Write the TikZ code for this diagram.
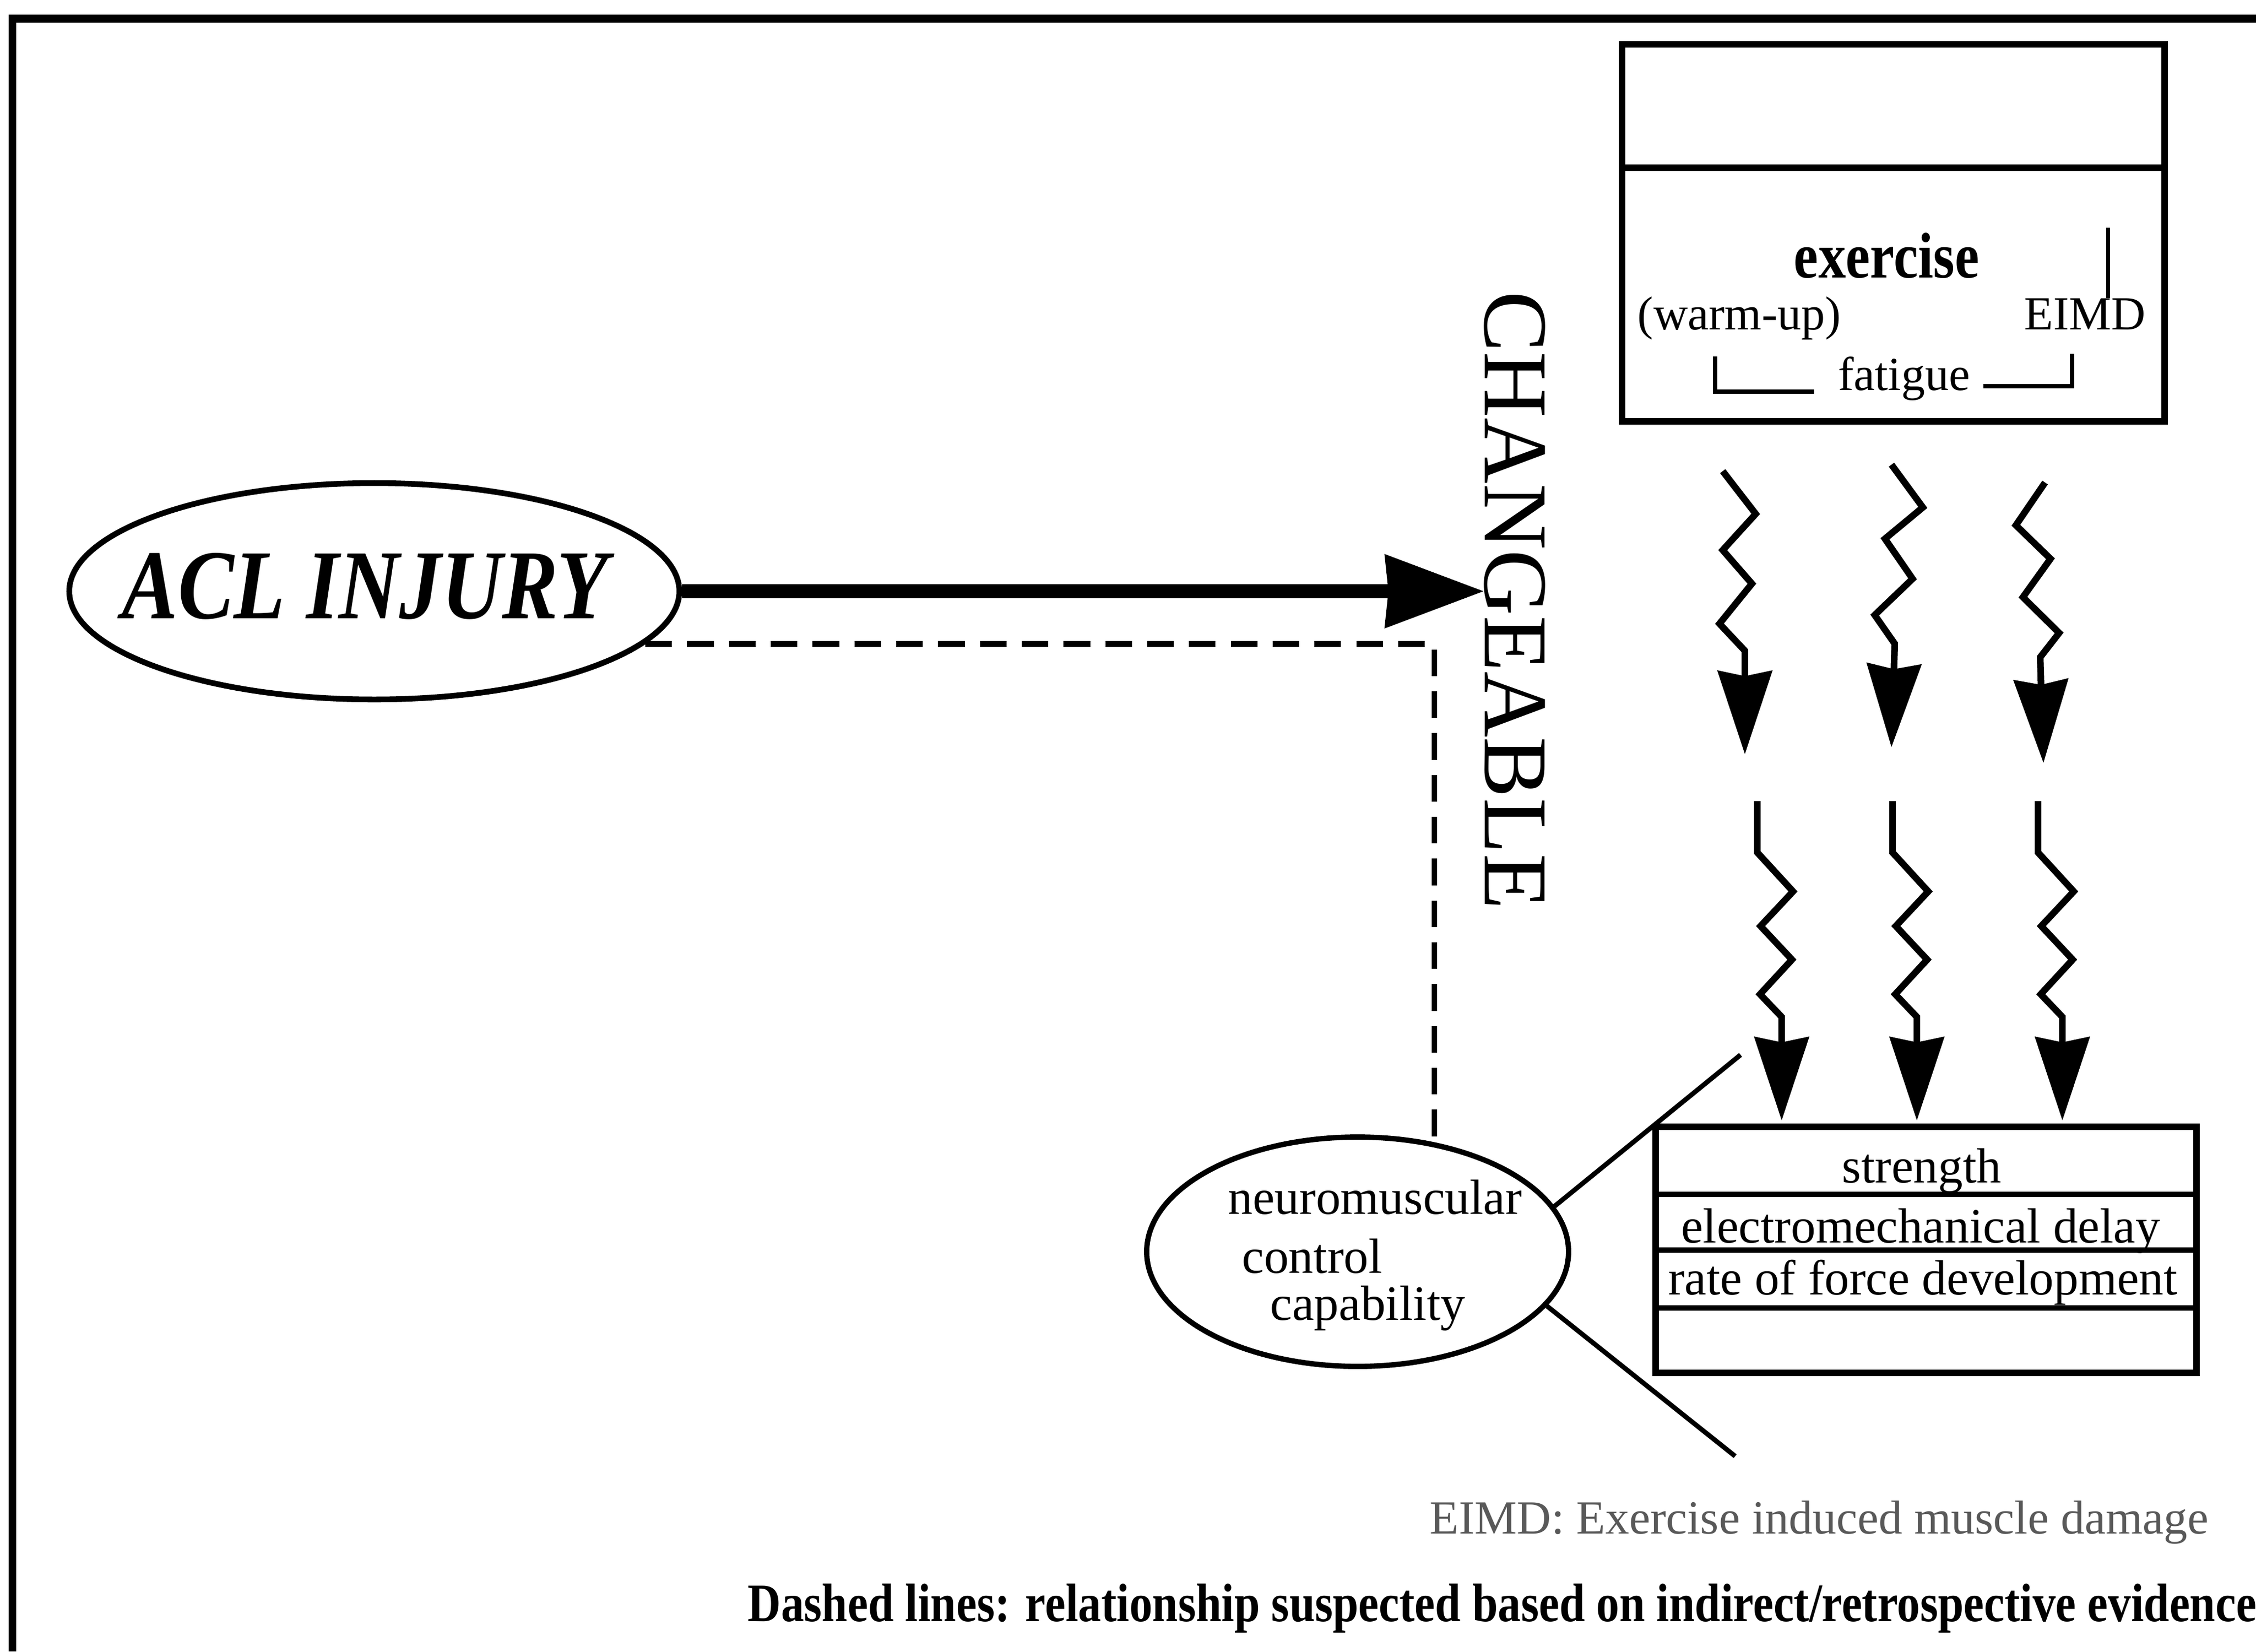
\documentclass[tikz,border=0pt]{standalone}
\usepackage{fontspec}
\setmainfont{Liberation Serif}
\newfontfamily\narrowfont[FakeStretch=0.85]{Liberation Serif}
\usetikzlibrary{arrows.meta,shapes.geometric}

\tikzset{
  frameline/.style={line width=4pt},
  oval/.style={ellipse, draw, line width=3pt, inner sep=0pt},
  boxline/.style={draw, line width=3.2pt, inner sep=0pt},
  txt/.style={inner sep=0pt, font=\fontsize{25}{30}\selectfont},
  celltxt/.style={inner sep=0pt, anchor=base, font=\fontsize{26}{31}\selectfont},
  ovaltxt/.style={inner sep=0pt, anchor=base west, font=\fontsize{26}{31}\selectfont},
  squiggle/.style={line width=3.5pt, -{Stealth[length=44pt, width=29pt, inset=3pt, line width=1pt]}},
  mainarrow/.style={line width=7.5pt, -{Stealth[length=52pt, width=39pt, inset=2pt, line width=1pt]}},
  suspected/.style={line width=3pt, dash pattern=on 14pt off 8pt},
  zoomline/.style={line width=2.5pt}
}

\begin{document}
\begin{tikzpicture}
\useasboundingbox (0,0) rectangle (41.71,-30.53);
% frame, open to the right and bottom
\draw[frameline] (0.23,-30.53) -- (0.23,-0.345) -- (41.71,-0.345);

% exercise box
\node[boxline, minimum width=10.03cm, minimum height=6.97cm] (exbox) at (35.005,-4.305) {};
\draw[line width=3.6pt] (exbox.west |- 0,-3.10) -- (exbox.east |- 0,-3.10);
\node[inner sep=0pt, anchor=base, font=\narrowfont\bfseries\fontsize{34}{40}\selectfont] (exer) at (34.88,-5.13) {exercise};
\node[txt, anchor=base west] (warm) at (30.27,-6.09) {(warm-up)};
\node[txt, anchor=base east] (eimd) at (39.68,-6.09) {EIMD};
\coordinate (bartop) at (38.97,-4.21);
\draw[line width=2pt] (bartop) -- (bartop |- eimd.north);
\node[txt, anchor=base] (fat) at (35.2,-7.21) {fatigue};
\coordinate (fatl) at (31.71,-6.59);
\coordinate (fatr) at (38.31,-6.54);
\draw[line width=2.3pt] (fatl) |- ([xshift=-0.43cm,yshift=-0.03cm]fat.base west);
\draw[line width=2.3pt] ([xshift=0.24cm,yshift=0.07cm]fat.base east) -| (fatr);

% ACL injury and changeable
\node[oval, minimum width=11.28cm, minimum height=4cm] (acl) at (6.92,-10.93) {};
\node[inner sep=0pt, anchor=base, font=\narrowfont\bfseries\itshape\fontsize{52}{60}\selectfont] (acltxt) at (6.75,-11.43) {ACL INJURY};
\node[rotate=-90, inner sep=0pt, font=\fontsize{48}{56}\selectfont] (chg) at (28.0,-11.10) {CHANGEABLE};
\draw[mainarrow] (acl.east) -- (acl.east -| chg.south);

% wavy arrows, upper row
\draw[squiggle] (31.85,-8.71) -- (32.46,-9.50) -- (31.85,-10.17) -- (32.39,-10.79) -- (31.79,-11.53) -- (32.26,-12.03) -- (32.26,-13.94);
\draw[squiggle] (34.97,-8.59) -- (35.55,-9.38) -- (34.85,-9.96) -- (35.36,-10.70) -- (34.66,-11.37) -- (35.03,-11.90) -- (34.97,-13.81);
\draw[squiggle] (37.81,-8.92) -- (37.27,-9.71) -- (37.91,-10.33) -- (37.40,-11.04) -- (38.07,-11.70) -- (37.72,-12.15) -- (37.78,-14.10);

% neuromuscular control and its components
\node[boxline, minimum width=10cm, minimum height=4.55cm] (props) at (35.61,-23.105) {};
\foreach \y in {22.08,23.11,24.18}
  \draw[line width=2.8pt] (props.west |- 0,-\y) -- (props.east |- 0,-\y);
\node[celltxt] (strength) at (35.53,-21.86) {strength};
\node[celltxt] (emd) at (35.51,-22.97) {electromechanical delay};
\node[celltxt] (rfd) at (35.55,-23.93) {rate of force development};

% wavy arrows, lower row
\foreach \x in {32.49,34.99,37.68}
  \draw[squiggle] (\x,-14.81) -- ++(0,-0.95) -- ++(0.66,-0.72) -- ++(-0.60,-0.64) -- ++(0.58,-0.62) -- ++(-0.59,-0.64) -- ++(0.40,-0.42) -- ++(0,-1.91);

\node[oval, line width=2.8pt, minimum width=7.8cm, minimum height=4.24cm] (nmc) at (25.10,-23.14) {};
\node[ovaltxt] (nmcone) at (22.70,-22.44) {neuromuscular};
\node[ovaltxt] (nmctwo) at (22.96,-23.53) {control};
\node[ovaltxt] (nmcthree) at (23.48,-24.40) {capability};
\coordinate (zu) at (32.18,-19.50);
\coordinate (zd) at (32.08,-26.92);
\draw[zoomline] (nmc.13) -- (zu);
\draw[zoomline] (nmc.-16) -- (zd);

% suspected link
\draw[suspected] (acl.-11) -| (nmc.55);

% notes
\node[txt, anchor=base west, text=black!65] (note) at (26.43,-28.35) {EIMD: Exercise induced muscle damage};
\node[inner sep=0pt, anchor=base west, font=\narrowfont\bfseries\fontsize{28.5}{34}\selectfont] (legend) at (13.82,-29.97) {Dashed lines: relationship suspected based on indirect/retrospective evidence};
\end{tikzpicture}
\end{document}
